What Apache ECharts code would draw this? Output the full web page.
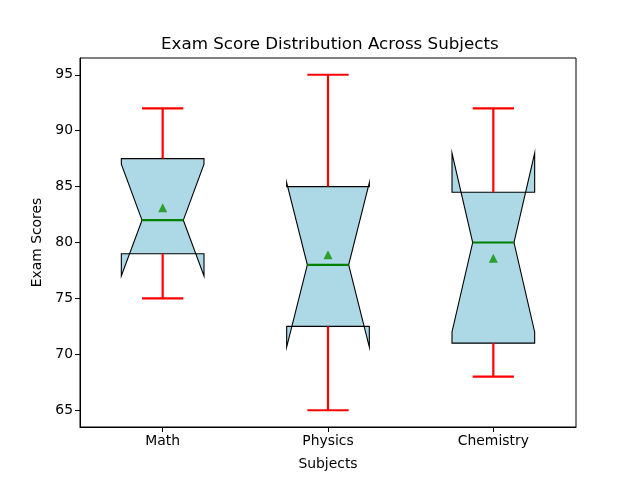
<!DOCTYPE html>
<html>
<head>
<meta charset="utf-8">
<script src="https://cdn.jsdelivr.net/npm/echarts@6/dist/echarts.min.js"></script>
<style>html,body{margin:0;padding:0;background:#fff;}#c{width:640px;height:480px;}</style>
</head>
<body>
<div id="c"></div>
<script>
var categories = ['Math', 'Physics', 'Chemistry'];
var whiskerLow = [75, 65, 68];
var q1 = [79, 72.5, 71];
var median = [82, 78, 80];
var q3 = [87.5, 85, 84.5];
var whiskerHigh = [92, 95, 92];
var notchLow = [77, 70.65, 72];
var notchHigh = [87, 85.35, 88];
var means = [83.1, 78.9, 78.6];
var yTicks = [65, 70, 75, 80, 85, 90, 95];

var FONT = 'DejaVu Sans';
var boxData = categories.map(function (c, i) {
  return [i, whiskerLow[i], q1[i], median[i], q3[i], whiskerHigh[i], notchLow[i], notchHigh[i]];
});
var meanData = categories.map(function (c, i) { return [i, means[i]]; });

function renderBox(params, api) {
  var i = api.value(0);
  var band = api.size([1, 0])[0];
  var cx = api.coord([i, api.value(3)])[0];
  function Y(v) { return api.coord([i, v])[1]; }
  var hw = band * 0.25, nw = band * 0.125, cw = band * 0.125;
  var yWl = Y(api.value(1)), yQ1 = Y(api.value(2)), yMed = Y(api.value(3)),
      yQ3 = Y(api.value(4)), yWh = Y(api.value(5)), yNl = Y(api.value(6)), yNh = Y(api.value(7));
  var L = cx - hw, R = cx + hw;
  var redLine = { stroke: '#ff0000', lineWidth: 2.2 };
  return {
    type: 'group',
    children: [
      { type: 'polygon', shape: { points: [
          [L, yQ1], [R, yQ1], [R, yNl], [cx + nw, yMed], [R, yNh], [R, yQ3],
          [L, yQ3], [L, yNh], [cx - nw, yMed], [L, yNl]
        ] }, style: { fill: '#add8e6', stroke: '#000', lineWidth: 1.1 } },
      { type: 'line', shape: { x1: cx, y1: yQ1, x2: cx, y2: yWl }, style: redLine },
      { type: 'line', shape: { x1: cx, y1: yQ3, x2: cx, y2: yWh }, style: redLine },
      { type: 'line', shape: { x1: cx - cw, y1: yWl, x2: cx + cw, y2: yWl }, style: redLine },
      { type: 'line', shape: { x1: cx - cw, y1: yWh, x2: cx + cw, y2: yWh }, style: redLine },
      { type: 'line', shape: { x1: cx - nw, y1: yMed, x2: cx + nw, y2: yMed }, style: { stroke: '#008000', lineWidth: 2.2 } }
    ]
  };
}

var chart = echarts.init(document.getElementById('c'), null, { renderer: 'canvas' });
chart.setOption({
  animation: false,
  backgroundColor: '#fff',
  title: {
    text: 'Exam Score Distribution Across Subjects',
    left: 156, top: 31,
    textStyle: { fontFamily: FONT, fontSize: 16.7, fontWeight: 'normal', color: '#000' }
  },
  grid: { left: 80, right: 64, top: 58, bottom: 53, show: true, borderColor: '#000', borderWidth: 1, backgroundColor: 'transparent' },
  xAxis: {
    type: 'category', data: categories, boundaryGap: true,
    name: 'Subjects', nameLocation: 'middle', nameGap: 30,
    nameTextStyle: { fontFamily: FONT, fontSize: 13.9, color: '#000' },
    axisLine: { show: true, lineStyle: { color: '#000', width: 1 } },
    axisTick: { show: true, alignWithLabel: true, length: 5, lineStyle: { color: '#000' } },
    axisLabel: { fontFamily: FONT, fontSize: 13.9, color: '#000', margin: 7 },
    splitLine: { show: false }
  },
  yAxis: {
    type: 'value', min: 63.5, max: 96.5,
    name: 'Exam Scores', nameLocation: 'middle', nameGap: 34,
    nameTextStyle: { fontFamily: FONT, fontSize: 13.9, color: '#000' },
    axisLine: { show: true, lineStyle: { color: '#000', width: 1 } },
    axisTick: { show: true, length: 5, customValues: yTicks, lineStyle: { color: '#000' } },
    axisLabel: { fontFamily: FONT, fontSize: 13.9, color: '#000', margin: 7, customValues: yTicks },
    splitLine: { show: false }
  },
  series: [
    { type: 'custom', renderItem: renderBox, data: boxData, encode: { x: 0, y: [1, 2, 3, 4, 5, 6, 7] }, z: 2 },
    { type: 'scatter', data: meanData, symbol: 'triangle', symbolSize: 9, itemStyle: { color: '#2ca02c', opacity: 1 }, z: 3 }
  ]
});
</script>
</body>
</html>
